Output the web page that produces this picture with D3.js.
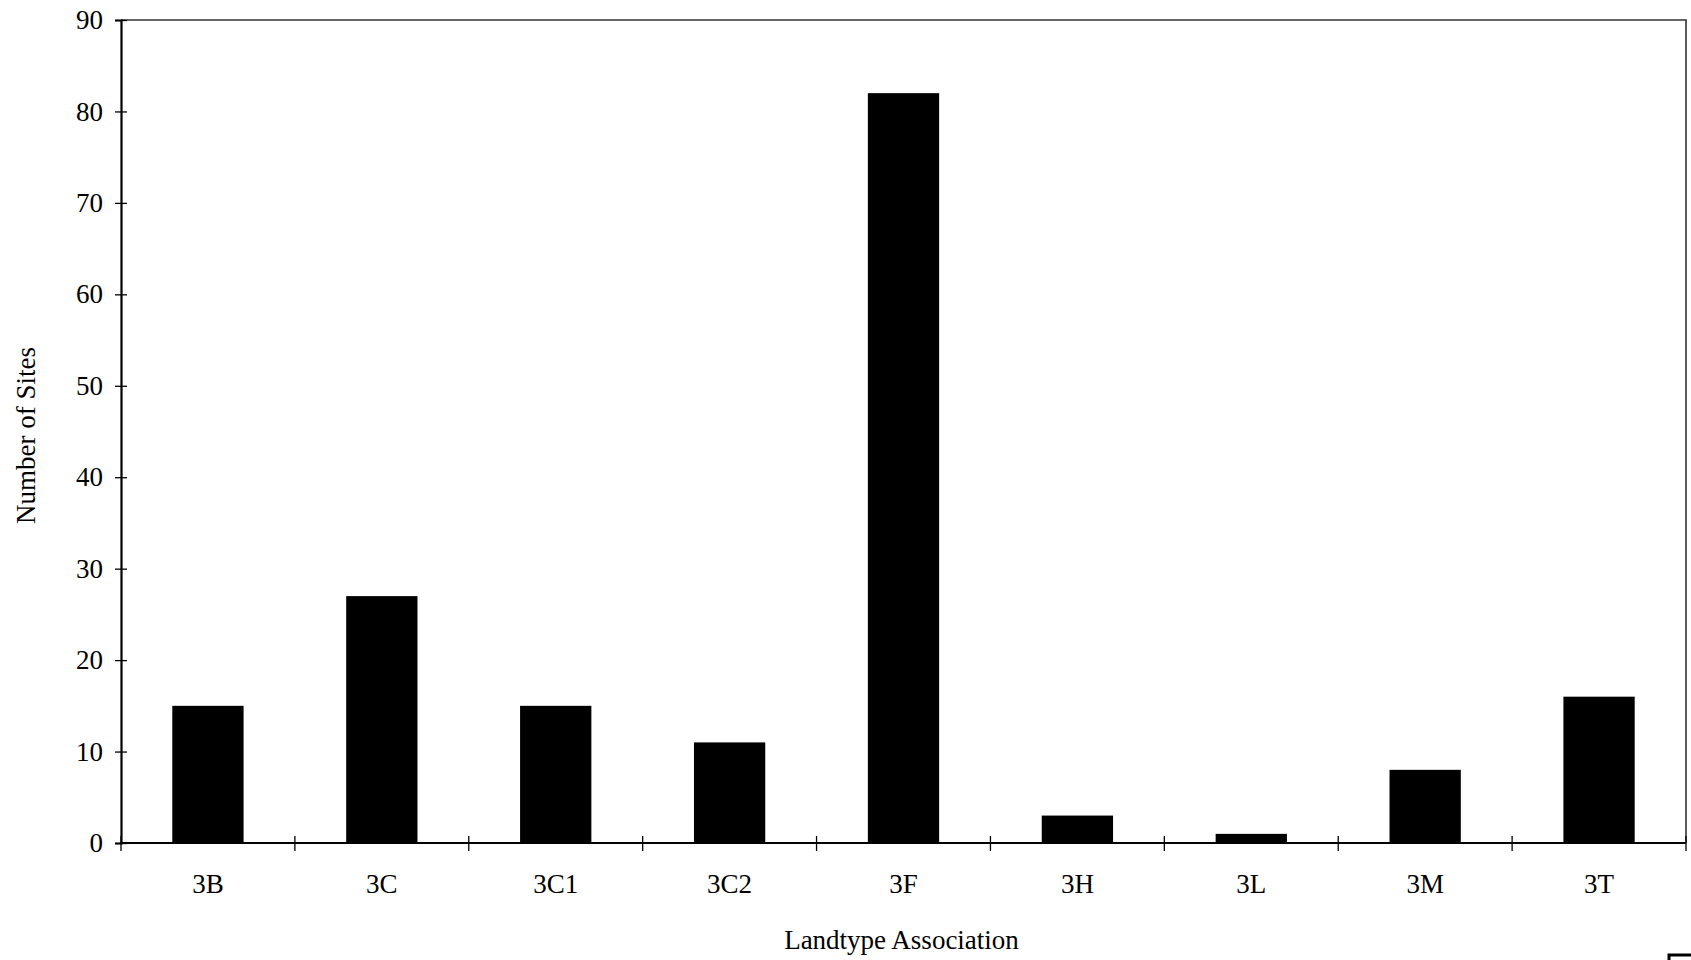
<!DOCTYPE html>
<html><head><meta charset="utf-8">
<script src="https://cdn.jsdelivr.net/npm/d3@7"></script>
<style>body{margin:0;background:#fff;} svg{display:block;}</style>
</head><body>
<script>
const categories = ["3B","3C","3C1","3C2","3F","3H","3L","3M","3T"];
const values = [15,27,15,11,82,3,1,8,16];
const yTicks = [0,10,20,30,40,50,60,70,80,90];
const xTitle = "Landtype Association";
const yTitle = "Number of Sites";

const W = 1691, H = 960;
const m = {left:121, right:1686, top:20, bottom:843};
const FS = 27;
const svg = d3.select("body").append("svg").attr("width",W).attr("height",H)
  .style("font-family","'Liberation Serif','Times New Roman',serif");

const x = d3.scaleBand().domain(categories).range([m.left,m.right]).paddingInner(0.59).paddingOuter(0.295);
const y = d3.scaleLinear().domain([0,90]).range([m.bottom,m.top]);

// frame (top, right)
svg.append("path").attr("d",`M${m.left},${m.top}H${m.right}V${m.bottom}`)
  .attr("fill","none").attr("stroke","#333").attr("stroke-width",1.6);

// bars
svg.selectAll("rect.bar").data(values).join("rect").attr("class","bar")
  .attr("x",(d,i)=>x(categories[i])).attr("width",x.bandwidth())
  .attr("y",d=>y(d)).attr("height",d=>y(0)-y(d)).attr("fill","#000");

// y axis
const yAxis = d3.axisLeft(y).tickValues(yTicks).tickSize(6).tickPadding(12);
const gy = svg.append("g").attr("transform",`translate(${m.left},0)`).call(yAxis);
gy.select(".domain").attr("stroke","#000").attr("stroke-width",2.2);
gy.selectAll(".tick line").attr("x2",6).attr("x1",-6).attr("stroke","#000").attr("stroke-width",1.3);
gy.selectAll(".tick text").attr("font-size",FS).attr("fill","#000").attr("font-family","'Liberation Serif',serif");

// x axis with boundary ticks
const step = x.step();
const boundaries = d3.range(categories.length+1).map(i=>m.left + i*step);
svg.append("line").attr("x1",m.left).attr("x2",m.right).attr("y1",y(0)).attr("y2",y(0))
  .attr("stroke","#000").attr("stroke-width",1.8);
svg.selectAll("line.xt").data(boundaries).join("line").attr("class","xt")
  .attr("x1",d=>d).attr("x2",d=>d).attr("y1",y(0)-7).attr("y2",y(0)+8)
  .attr("stroke","#000").attr("stroke-width",1.3);
svg.selectAll("text.xl").data(categories).join("text").attr("class","xl")
  .attr("x",d=>x(d)+x.bandwidth()/2).attr("y",y(0)+50)
  .attr("text-anchor","middle").attr("font-size",FS).text(d=>d);

// titles
svg.append("text").attr("x",(m.left+m.right)/2 - 2).attr("y",949)
  .attr("text-anchor","middle").attr("font-size",FS).text(xTitle);
svg.append("text").attr("transform",`translate(35,${(m.top+m.bottom)/2+4}) rotate(-90)`)
  .attr("text-anchor","middle").attr("font-size",FS).text(yTitle);

// small corner mark (scan artifact)
svg.append("path").attr("d","M1669,960V955H1691").attr("fill","none").attr("stroke","#000").attr("stroke-width",3);
</script>
</body></html>
